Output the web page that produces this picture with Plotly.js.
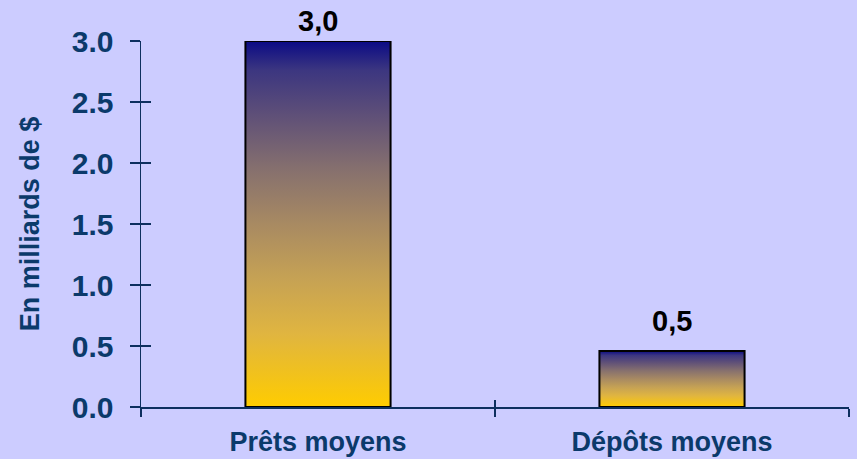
<!DOCTYPE html>
<html>
<head>
<meta charset="utf-8">
<script src="https://cdn.plot.ly/plotly-3.0.1.min.js"></script>
<style>
html,body{margin:0;padding:0;background:#CCCCFF;}
#chart{width:857px;height:459px;}
</style>
</head>
<body>
<div id="chart"></div>
<script>
const categories = ["Prêts moyens", "Dépôts moyens"];
const values = [3.0, 0.46];
const valueLabels = ["3,0", "0,5"];
const yTitle = "En milliards de $";

const FONT = "Liberation Sans, Arial, sans-serif";
const NAVY = "#0b3a6b";
const AXIS = "#0d2f5f";

const traces = [
  {
    type: "bar",
    x: categories,
    y: values,
    width: 0.41,
    marker: { color: "#a88a62", line: { color: "#000000", width: 2 } },
    hoverinfo: "none",
    cliponaxis: false
  },
  {
    type: "scatter",
    x: [],
    y: [],
    xaxis: "x2",
    yaxis: "y2",
    hoverinfo: "none",
    showlegend: false
  }
];

const shifts = [2, 12];
const annotations = values.map((v, i) => ({
  x: categories[i],
  y: v,
  xref: "x",
  yref: "y",
  text: valueLabels[i],
  showarrow: false,
  yanchor: "bottom",
  yshift: shifts[i],
  font: { family: FONT, size: 29, color: "#000000", weight: "bold" }
}));

const layout = {
  width: 857,
  height: 459,
  paper_bgcolor: "#CCCCFF",
  plot_bgcolor: "#CCCCFF",
  margin: { l: 141, r: 8, t: 41, b: 52, pad: 0 },
  showlegend: false,
  xaxis: {
    type: "category",
    range: [-0.5, 1.5],
    showline: true,
    linecolor: AXIS,
    linewidth: 1.5,
    ticks: "outside",
    tickson: "boundaries",
    ticklen: 8,
    tickwidth: 1.5,
    tickcolor: AXIS,
    showgrid: false,
    zeroline: false,
    ticklabelstandoff: 10,
    tickfont: { family: FONT, size: 27, color: NAVY, weight: "bold" },
    fixedrange: true
  },
  yaxis: {
    range: [0, 3],
    dtick: 0.5,
    tick0: 0,
    tickformat: ".1f",
    showline: true,
    linecolor: AXIS,
    linewidth: 1.5,
    ticks: "outside",
    ticklen: 10,
    tickwidth: 1.2,
    tickcolor: AXIS,
    showgrid: false,
    zeroline: false,
    ticklabelstandoff: 10,
    tickfont: { family: FONT, size: 30, color: NAVY, weight: "bold" },
    title: { text: yTitle, standoff: 24, font: { family: FONT, size: 27, color: NAVY, weight: "bold" } },
    fixedrange: true
  },
  xaxis2: {
    overlaying: "x",
    anchor: "y2",
    side: "bottom",
    range: [-0.5, 1.5],
    tick0: -0.5,
    dtick: 1,
    ticks: "inside",
    ticklen: 7,
    tickwidth: 1.5,
    tickcolor: AXIS,
    showticklabels: false,
    showline: false,
    showgrid: false,
    zeroline: false
  },
  yaxis2: {
    overlaying: "y",
    anchor: "x2",
    side: "left",
    range: [0, 3],
    tick0: 0,
    dtick: 0.5,
    ticks: "inside",
    ticklen: 10,
    tickwidth: 1.2,
    tickcolor: AXIS,
    showticklabels: false,
    showline: false,
    showgrid: false,
    zeroline: false
  },
  annotations: annotations
};

Plotly.newPlot("chart", traces, layout, { displayModeBar: false, staticPlot: true }).then(gd => {
  const svgNS = "http://www.w3.org/2000/svg";
  const svg = gd.querySelector("svg.main-svg");
  let defs = svg.querySelector("defs");
  if (!defs) { defs = document.createElementNS(svgNS, "defs"); svg.insertBefore(defs, svg.firstChild); }
  const grad = document.createElementNS(svgNS, "linearGradient");
  grad.setAttribute("id", "barGrad");
  grad.setAttribute("x1", "0"); grad.setAttribute("y1", "0");
  grad.setAttribute("x2", "0"); grad.setAttribute("y2", "1");
  const stops = [
    [0, "#0a0a85"], [0.08, "#3c3680"], [0.2, "#5e4f78"], [0.35, "#86706e"],
    [0.5, "#a88a62"], [0.65, "#c6a254"], [0.8, "#e0b540"], [1, "#ffcc00"]
  ];
  stops.forEach(([o, c]) => {
    const s = document.createElementNS(svgNS, "stop");
    s.setAttribute("offset", o);
    s.setAttribute("stop-color", c);
    grad.appendChild(s);
  });
  defs.appendChild(grad);
  gd.querySelectorAll(".bars .point path").forEach(p => { p.style.fill = "url(#barGrad)"; });
});
</script>
</body>
</html>
